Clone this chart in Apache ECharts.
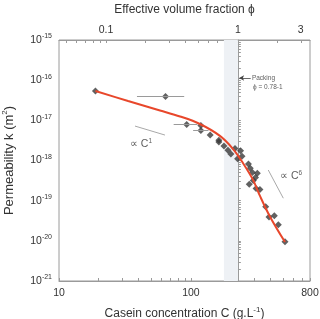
<!DOCTYPE html>
<html>
<head>
<meta charset="utf-8">
<script src="https://cdn.jsdelivr.net/npm/echarts@6/dist/echarts.min.js"></script>
<style>
  html, body { margin: 0; padding: 0; background: #fff; }
  #chart { width: 320px; height: 319px; }
</style>
</head>
<body>
<div id="chart"></div>
<script>
// measured permeability vs casein concentration (g/L, m^2)
const concPts = [18.9, 64.2, 92.9, 119, 119, 140, 163, 163, 178, 191, 201, 216, 238, 226, 244,
    273, 282, 293, 319, 309, 297, 277, 312, 334, 369, 391, 429, 460, 517];
const permPts = [5.4e-17, 3.9e-17, 7.9e-18, 7.4e-18, 5.6e-18, 4.3e-18, 3.2e-18, 2.9e-18, 2.3e-18,
    1.8e-18, 1.45e-18, 2.0e-18, 1.75e-18, 1.1e-18, 1.27e-18, 8.2e-19, 6.4e-19, 5.0e-19, 4.8e-19,
    3.8e-19, 3.2e-19, 2.56e-19, 2.0e-19, 1.9e-19, 7.1e-20, 3.9e-20, 4.2e-20, 2.5e-20, 9.5e-21];

// horizontal error bars (index into the points above)
const errIdx = [1, 2, 4];
const errLo = [39, 74, 104];
const errHi = [89, 112, 136];

// model curve (red)
const fitC = [18.9, 33.4, 58.3, 82.7, 117, 166, 209, 248, 296, 334, 398, 517];
const fitK = [5.37e-17, 3.03e-17, 1.76e-17, 1.25e-17, 8.1e-18, 4.1e-18, 1.93e-18, 8.7e-19,
    3.3e-19, 1.31e-19, 4.0e-20, 9.35e-21];

// slope guides
const guide1C = [37.7, 63.6], guide1K = [7.2e-18, 4.3e-18];
const guide6C = [386, 502], guide6K = [5.8e-19, 1.15e-19];

// packing band, C range (phi 0.78 - 1)
const packC = [178, 227];
const phiPerC = 1 / 227;

// annotation texts
const noteText = ['{a|∝ C}{s|1}', '{a|∝ C}{s|6}', '{p|Packing}', '{p|ϕ = 0.78-1}'];
const noteC = [34.5, 474, 290, 296];
const noteK = [2.58e-18, 4.1e-19, 1.13e-16, 6.8e-17];
const arrowC = [284, 232], arrowK = [1.13e-16, 1.13e-16];

// tick labels
const bottomLabels = [10, 100, 800];
const topLabels = [0.1, 1, 3];
const yDecades = [-21, -20, -19, -18, -17, -16, -15];

const lg = Math.log10;
const FONT = 'Liberation Sans';
const axisCol = '#9a9a9a';
const txtCol = '#333';

function logTicks(lo, hi) {
    const out = [];
    for (let e = Math.floor(lg(lo)); e <= Math.ceil(lg(hi)); e++) {
        for (let m = 1; m <= 9; m++) {
            const v = m * Math.pow(10, e);
            if (v >= lo * 0.999 && v <= hi * 1.001) out.push(lg(v));
        }
    }
    return out;
}

const xMin = 10, xMax = 800;
const supRich = {
    b: { fontSize: 10.5, color: txtCol, fontFamily: FONT },
    s: { fontSize: 7, color: txtCol, fontFamily: FONT, padding: [0, 0, 7, 0] }
};
const nameSup = { fontSize: 8, color: txtCol, fontFamily: FONT, padding: [0, 0, 8, 0] };

const chart = echarts.init(document.getElementById('chart'));
chart.setOption({
    animation: false,
    grid: {
        left: 59, right: 10, top: 40, bottom: 38, outerBoundsMode: 'none',
        show: true, borderColor: axisCol, borderWidth: 1
    },
    xAxis: [{
        type: 'value', min: lg(xMin), max: lg(xMax), position: 'bottom',
        name: 'Casein concentration C (g.L{s|-1})', nameLocation: 'middle', nameGap: 25,
        nameTextStyle: { fontSize: 12, color: txtCol, fontFamily: FONT, rich: { s: nameSup } },
        axisLine: { lineStyle: { color: axisCol } },
        axisTick: { inside: true, length: 3, lineStyle: { color: axisCol }, customValues: logTicks(xMin, xMax) },
        axisLabel: {
            customValues: bottomLabels.map(lg), margin: 7, fontSize: 10.5, color: txtCol, fontFamily: FONT,
            formatter: v => String(Math.round(Math.pow(10, v)))
        },
        splitLine: { show: false }
    }, {
        type: 'value', min: lg(xMin * phiPerC), max: lg(xMax * phiPerC), position: 'top',
        name: 'Effective volume fraction ϕ', nameLocation: 'middle', nameGap: 24,
        nameTextStyle: { fontSize: 12, color: txtCol, fontFamily: FONT },
        axisLine: { lineStyle: { color: axisCol } },
        axisTick: { inside: true, length: 3, lineStyle: { color: axisCol },
            customValues: logTicks(0.05, 3) },
        axisLabel: {
            customValues: topLabels.map(lg), margin: 4, fontSize: 10.5, color: txtCol, fontFamily: FONT,
            formatter: v => String(+Math.pow(10, v).toPrecision(2))
        },
        splitLine: { show: false }
    }],
    yAxis: {
        type: 'value', min: -21, max: -15,
        name: 'Permeability k (m{s|2})', nameLocation: 'middle', nameGap: 42,
        nameTextStyle: { fontSize: 13, color: txtCol, fontFamily: FONT, rich: { s: nameSup } },
        axisLine: { show: true, lineStyle: { color: axisCol } },
        axisTick: { inside: true, length: 3, lineStyle: { color: axisCol }, customValues: logTicks(1e-21, 1e-15) },
        axisLabel: {
            customValues: yDecades, margin: 7, fontFamily: FONT,
            formatter: v => '{b|10}{s|' + v + '}', rich: supRich
        },
        splitLine: { show: false }
    },
    series: [{
        name: 'band', type: 'line', data: [], silent: true,
        markArea: {
            silent: true, itemStyle: { color: '#eef1f5' },
            data: [[{ xAxis: lg(packC[0]) }, { xAxis: lg(packC[1]) }]]
        }
    }, {
        name: 'guides', type: 'line', data: [], silent: true,
        markLine: {
            silent: true, symbol: 'none', label: { show: false },
            lineStyle: { color: '#a8a8a8', width: 1, type: 'solid' },
            data: [
                [{ coord: [lg(guide1C[0]), lg(guide1K[0])] }, { coord: [lg(guide1C[1]), lg(guide1K[1])] }],
                [{ coord: [lg(guide6C[0]), lg(guide6K[0])] }, { coord: [lg(guide6C[1]), lg(guide6K[1])] }]
            ]
        }
    }, {
        name: 'errors', type: 'line', data: [], silent: true,
        markLine: {
            silent: true, symbol: 'none', label: { show: false },
            lineStyle: { color: '#9a9a9a', width: 1, type: 'solid' },
            data: errIdx.map((i, j) => [
                { coord: [lg(errLo[j]), lg(permPts[i])] },
                { coord: [lg(errHi[j]), lg(permPts[i])] }
            ])
        }
    }, {
        name: 'arrow', type: 'line', data: [], silent: true,
        markLine: {
            silent: true, symbol: ['none', 'arrow'], symbolSize: [4, 5], label: { show: false },
            lineStyle: { color: '#444', width: 0.8, type: 'solid' },
            data: [[{ coord: [lg(arrowC[0]), lg(arrowK[0])] }, { coord: [lg(arrowC[1]), lg(arrowK[1])] }]]
        }
    }, {
        name: 'fit', type: 'line', smooth: 0.35, showSymbol: false, silent: true,
        lineStyle: { color: '#e8472b', width: 2 },
        data: fitC.map((c, i) => [lg(c), lg(fitK[i])])
    }, {
        name: 'data', type: 'scatter', symbol: 'diamond', symbolSize: 7, silent: true,
        itemStyle: { color: '#3a3a3a' },
        data: concPts.map((c, i) => [lg(c), lg(permPts[i])])
    }, {
        name: 'notes', type: 'scatter', symbolSize: 0, silent: true,
        data: noteText.map((t, i) => ({ value: [lg(noteC[i]), lg(noteK[i])], name: t })),
        label: {
            show: true, position: 'right', distance: 0, formatter: p => p.name,
            rich: {
                a: { fontSize: 10.5, color: txtCol, fontFamily: FONT },
                s: { fontSize: 6.5, color: txtCol, fontFamily: FONT, padding: [0, 0, 6, 0] },
                p: { fontSize: 6.5, color: txtCol, fontFamily: FONT }
            }
        }
    }]
});
window.addEventListener('resize', () => chart.resize());
</script>
</body>
</html>
